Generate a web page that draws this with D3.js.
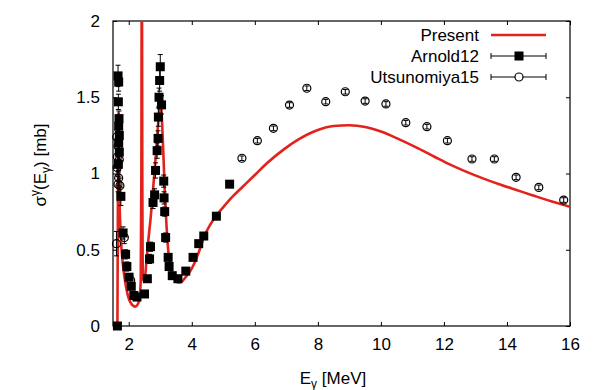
<!DOCTYPE html>
<html>
<head>
<meta charset="utf-8">
<script src="https://cdn.jsdelivr.net/npm/d3@7"></script>
<style>
  body { margin: 0; background: #fff; }
  svg { display: block; font-family: "Liberation Sans", Arial, Helvetica, sans-serif; }
</style>
</head>
<body>
<div id="chart"></div>
<script>
// Present calculation (energy in MeV, cross section in mb)
const presentE = [1.64, 1.655, 1.67, 1.685, 1.70, 1.74, 1.78, 1.85, 1.93, 2.00, 2.10, 2.20, 2.28, 2.34, 2.38, 2.40, 2.415, 2.43, 2.45, 2.50, 2.56, 2.62, 2.70, 2.78, 2.86, 2.93, 2.98, 3.02, 3.06, 3.10, 3.15, 3.20, 3.26, 3.34, 3.45, 3.56, 3.68, 3.80, 3.95, 4.10, 4.25, 4.40, 4.60, 4.80, 5.0, 5.3, 5.6, 6.0, 6.4, 6.9, 7.4, 8.0, 8.5, 9.0, 9.5, 10.0, 10.6, 11.2, 11.7, 12.2, 12.7, 13.3, 13.8, 14.3, 14.8, 15.4, 16.0];
const presentS = [0, 0.8, 1.4, 1.2, 0.9, 0.62, 0.48, 0.34, 0.24, 0.18, 0.14, 0.127, 0.14, 0.18, 0.3, 1.0, 2.6, 1.0, 0.3, 0.3, 0.42, 0.56, 0.72, 0.92, 1.12, 1.32, 1.43, 1.44, 1.32, 1.12, 0.85, 0.65, 0.48, 0.37, 0.31, 0.285, 0.29, 0.32, 0.36, 0.42, 0.50, 0.59, 0.67, 0.73, 0.78, 0.85, 0.91, 0.99, 1.07, 1.155, 1.225, 1.285, 1.311, 1.316, 1.305, 1.275, 1.222, 1.163, 1.110, 1.058, 1.012, 0.963, 0.926, 0.892, 0.858, 0.818, 0.782];

// Arnold12 data
const arnoldE = [1.64, 1.66, 1.68, 1.67, 1.69, 1.68, 1.70, 1.68, 1.70, 1.67, 1.75, 1.82, 1.90, 1.94, 2.01, 2.08, 2.16, 2.26, 2.50, 2.59, 2.66, 2.69, 2.77, 2.82, 2.85, 2.90, 2.93, 2.94, 2.96, 2.98, 3.00, 3.04, 3.11, 3.12, 3.14, 3.17, 3.25, 3.28, 3.38, 3.56, 3.81, 4.04, 4.22, 4.38, 4.78, 5.20];
const arnoldS = [0.00, 1.64, 1.60, 1.47, 1.36, 1.31, 1.25, 1.20, 1.14, 1.06, 0.85, 0.61, 0.47, 0.39, 0.32, 0.26, 0.20, 0.19, 0.21, 0.31, 0.44, 0.52, 0.81, 0.86, 1.02, 1.15, 1.23, 1.37, 1.50, 1.61, 1.70, 1.45, 0.95, 0.84, 0.75, 0.58, 0.45, 0.39, 0.33, 0.31, 0.36, 0.45, 0.54, 0.59, 0.72, 0.93];
const arnoldErr = [0.02, 0.07, 0.06, 0.05, 0.05, 0.05, 0.05, 0.05, 0.05, 0.05, 0.06, 0.04, 0.03, 0.03, 0.02, 0.02, 0.02, 0.02, 0.02, 0.02, 0.03, 0.03, 0.04, 0.04, 0.05, 0.05, 0.05, 0.06, 0.06, 0.07, 0.08, 0.06, 0.04, 0.04, 0.03, 0.03, 0.02, 0.02, 0.02, 0.02, 0.02, 0.02, 0.02, 0.02, 0.02, 0.02];

// Utsunomiya15 data
const utsuE = [1.62, 1.66, 1.64, 1.70, 1.63, 1.68, 1.66, 1.72, 1.61, 1.86, 2.06, 5.59, 6.08, 6.59, 7.10, 7.65, 8.25, 8.87, 9.50, 10.16, 10.79, 11.46, 12.11, 12.89, 13.60, 14.29, 15.01, 15.80];
const utsuS = [1.24, 1.18, 1.11, 1.09, 1.04, 0.97, 0.93, 0.92, 0.54, 0.58, 0.30, 1.10, 1.215, 1.296, 1.449, 1.559, 1.471, 1.536, 1.475, 1.456, 1.333, 1.307, 1.215, 1.095, 1.095, 0.975, 0.909, 0.826];
const utsuErr = [0.05, 0.05, 0.05, 0.05, 0.05, 0.05, 0.05, 0.05, 0.08, 0.04, 0.03, 0.015, 0.015, 0.015, 0.015, 0.015, 0.015, 0.015, 0.015, 0.015, 0.015, 0.015, 0.015, 0.015, 0.015, 0.015, 0.015, 0.015];

const xTicks = [2, 4, 6, 8, 10, 12, 14, 16];
const yTicks = [0, 0.5, 1, 1.5, 2];
const legendNames = ["Present", "Arnold12", "Utsunomiya15"];

const width = 600, height = 390;
const margin = { left: 113, right: 30, top: 21, bottom: 64 };
const red = "#e3221b";
const fs = 17;

const svg = d3.select("#chart").append("svg")
    .attr("width", width)
    .attr("height", height);

const x = d3.scaleLinear().domain([1.5, 16]).range([margin.left, width - margin.right]);
const y = d3.scaleLinear().domain([0, 2]).range([height - margin.bottom, margin.top]);

// clip for the curve
svg.append("clipPath").attr("id", "plotclip")
    .append("rect")
    .attr("x", x(1.5)).attr("y", y(2))
    .attr("width", x(16) - x(1.5)).attr("height", y(0) - y(2));

// axes, inward ticks on all four sides
const tickLen = 4;
svg.append("g").attr("transform", `translate(0,${y(0)})`)
    .call(d3.axisBottom(x).tickValues(xTicks).tickSizeInner(-tickLen).tickSizeOuter(0).tickPadding(12))
    .call(g => g.select(".domain").remove())
    .call(g => g.selectAll("text").attr("font-size", fs).attr("fill", "#000"));
svg.append("g").attr("transform", `translate(0,${y(2)})`)
    .call(d3.axisTop(x).tickValues(xTicks).tickSizeInner(-tickLen).tickSizeOuter(0).tickFormat(""))
    .call(g => g.select(".domain").remove());
svg.append("g").attr("transform", `translate(${x(1.5)},0)`)
    .call(d3.axisLeft(y).tickValues(yTicks).tickSizeInner(-tickLen).tickSizeOuter(0).tickPadding(13).tickFormat(d3.format("")))
    .call(g => g.select(".domain").remove())
    .call(g => g.selectAll("text").attr("font-size", fs).attr("fill", "#000"));
svg.append("g").attr("transform", `translate(${x(16)},0)`)
    .call(d3.axisRight(y).tickValues(yTicks).tickSizeInner(-tickLen).tickSizeOuter(0).tickFormat(""))
    .call(g => g.select(".domain").remove());

svg.append("rect")
    .attr("x", x(1.5)).attr("y", y(2))
    .attr("width", x(16) - x(1.5)).attr("height", y(0) - y(2))
    .attr("fill", "none").attr("stroke", "#000").attr("stroke-width", 1.2);

// axis labels
const xl = svg.append("text")
    .attr("x", 333).attr("y", 384)
    .attr("text-anchor", "middle").attr("font-size", fs);
xl.append("tspan").text("E");
xl.append("tspan").attr("font-size", 12).attr("dy", 4).text("γ");
xl.append("tspan").attr("dy", -4).text(" [MeV]");

const yl = svg.append("text")
    .attr("transform", "translate(46,165) rotate(-90)")
    .attr("text-anchor", "middle").attr("font-size", fs);
yl.append("tspan").text("σ");
yl.append("tspan").attr("font-size", 12).attr("dy", -7).text("γ");
yl.append("tspan").attr("dy", 7).text("(E");
yl.append("tspan").attr("font-size", 12).attr("dy", 4).text("γ");
yl.append("tspan").attr("dy", -4).text(") [mb]");

// Present curve
const present = presentE.map((e, i) => [e, presentS[i]]);
svg.append("path")
    .datum(present)
    .attr("clip-path", "url(#plotclip)")
    .attr("fill", "none")
    .attr("stroke", red)
    .attr("stroke-width", 2.6)
    .attr("stroke-linejoin", "round")
    .attr("d", d3.line().x(d => x(d[0])).y(d => y(d[1])).curve(d3.curveMonotoneX));

// error bars helper
function errorBars(g, data) {
    const cap = 2.5;
    g.selectAll("path.err").data(data).enter().append("path")
        .attr("class", "err")
        .attr("fill", "none").attr("stroke", "#000").attr("stroke-width", 1)
        .attr("d", d => {
            const cx = x(d.e), y1 = y(d.s + d.err), y2 = y(d.s - d.err);
            return `M${cx},${y1}V${y2}M${cx - cap},${y1}H${cx + cap}M${cx - cap},${y2}H${cx + cap}`;
        });
}

// Arnold12 squares
const arnold = arnoldE.map((e, i) => ({ e, s: arnoldS[i], err: arnoldErr[i] }));
const gA = svg.append("g");
errorBars(gA, arnold);
const sq = 9;
gA.selectAll("rect").data(arnold).enter().append("rect")
    .attr("x", d => x(d.e) - sq / 2).attr("y", d => y(d.s) - sq / 2)
    .attr("width", sq).attr("height", sq).attr("fill", "#000");

// Utsunomiya15 circles
const utsu = utsuE.map((e, i) => ({ e, s: utsuS[i], err: utsuErr[i] }));
const gU = svg.append("g");
errorBars(gU, utsu);
gU.selectAll("circle").data(utsu).enter().append("circle")
    .attr("cx", d => x(d.e)).attr("cy", d => y(d.s)).attr("r", 4)
    .attr("fill", "none").attr("stroke", "#000").attr("stroke-width", 1.2);

// legend
const legY = [35, 56, 77];
const lx1 = 491, lx2 = 546, lmid = 519;
const leg = svg.append("g");
legendNames.forEach((name, i) => {
    leg.append("text")
        .attr("x", 479).attr("y", legY[i]).attr("dy", "0.35em")
        .attr("text-anchor", "end").attr("font-size", fs).text(name);
});
leg.append("line").attr("x1", lx1).attr("x2", lx2).attr("y1", legY[0]).attr("y2", legY[0])
    .attr("stroke", red).attr("stroke-width", 2.6);
[1, 2].forEach(i => {
    leg.append("path")
        .attr("fill", "none").attr("stroke", "#000").attr("stroke-width", 1)
        .attr("d", `M${lx1},${legY[i]}H${lx2}M${lx1},${legY[i] - 3}V${legY[i] + 3}M${lx2},${legY[i] - 3}V${legY[i] + 3}`);
});
leg.append("rect").attr("x", lmid - sq / 2).attr("y", legY[1] - sq / 2)
    .attr("width", sq).attr("height", sq).attr("fill", "#000");
leg.append("circle").attr("cx", lmid).attr("cy", legY[2]).attr("r", 4)
    .attr("fill", "#fff").attr("stroke", "#000").attr("stroke-width", 1.2);
</script>
</body>
</html>
